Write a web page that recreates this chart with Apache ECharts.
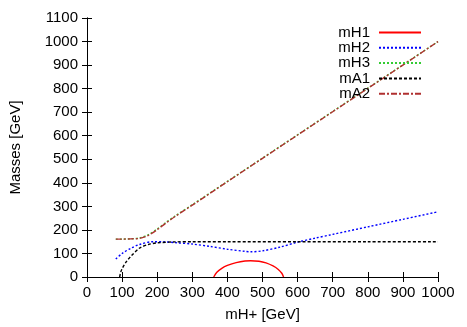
<!DOCTYPE html>
<html>
<head>
<meta charset="utf-8">
<script src="https://cdn.jsdelivr.net/npm/echarts@6/dist/echarts.min.js"></script>
<style>
html, body { margin: 0; padding: 0; background: #fff; }
#chart { width: 467px; height: 327px; }
</style>
</head>
<body>
<div id="chart"></div>
<script>
// values
var mH1X = [361, 370, 385, 400, 425, 450, 466, 490, 510, 530, 545, 555, 560];
var mH1Y = [0, 20, 38, 49, 61, 68, 69, 67, 60, 47, 32, 16, 0];

var mH2X = [82, 100, 125, 150, 188, 225, 250, 300, 350, 400, 450, 466, 500, 550, 600, 650, 700, 800, 900, 1000];
var mH2Y = [76, 100, 122, 138, 150, 149, 146, 140, 130, 118, 109, 107, 111, 127, 148, 165, 181, 213, 245, 277];

var mH3X = [82, 100, 125, 150, 175, 200, 225, 250, 300, 400, 500, 600, 700, 800, 900, 1000];
var mH3Y = [161, 161, 162, 166, 180, 204, 232, 258, 307, 406, 505, 604, 703, 802, 901, 1000];

var mA1X = [93, 96, 100, 112, 125, 150, 175, 200, 250, 300, 400, 600, 800, 1000];
var mA1Y = [0, 20, 35, 65, 88, 123, 138, 145, 149, 150, 150, 150, 150, 150];

var mA2X = [82, 100, 125, 150, 175, 200, 225, 250, 300, 400, 500, 600, 700, 800, 900, 1000];
var mA2Y = [161, 161, 162, 164, 177, 201, 229, 256, 305, 405, 504, 603, 702, 801, 900, 1000];

function pairs(xs, ys) {
	return xs.map(function (x, i) { return [x, ys[i]]; });
}

var chart = echarts.init(document.getElementById('chart'));
var font = 'Liberation Sans, Arial, sans-serif';
var plain = function (v) { return String(v); }; // no thousands separator

function line(name, xs, ys, color, type) {
	return {
		name: name,
		type: 'line',
		data: pairs(xs, ys),
		symbol: 'none',
		smooth: 0.3,
		animation: false,
		lineStyle: { color: color, width: 1.4, type: type },
		itemStyle: { color: color }
	};
}

var option = {
	textStyle: { fontFamily: font },
	grid: { left: 85, right: 29, top: 18, bottom: 50 },
	legend: {
		orient: 'vertical',
		right: 40,
		top: 20,
		align: 'right',
		itemWidth: 42,
		itemHeight: 15,
		itemGap: 0.3,
		itemStyle: { opacity: 0 },
		textStyle: { fontFamily: font, fontSize: 15, color: '#000', padding: [0, 4, 0, 0] },
		data: ['mH1', 'mH2', 'mH3', 'mA1', 'mA2']
	},
	xAxis: [{
		type: 'value',
		min: 0, max: 1000, interval: 100,
		name: 'mH+ [GeV]',
		nameLocation: 'middle',
		nameGap: 30,
		nameTextStyle: { fontSize: 15, color: '#000' },
		axisLine: { lineStyle: { color: '#000' } },
		axisTick: { inside: true, length: 5, lineStyle: { color: '#000' } },
		axisLabel: { color: '#000', fontSize: 15, margin: 8, formatter: plain },
		splitLine: { show: false }
	}, {
		type: 'value', position: 'top',
		min: 0, max: 1000, interval: 100,
		axisLine: { lineStyle: { color: '#000' } },
		axisTick: { inside: true, length: 5, lineStyle: { color: '#000' } },
		axisLabel: { show: false },
		splitLine: { show: false }
	}],
	yAxis: [{
		type: 'value',
		min: 0, max: 1100, interval: 100,
		name: 'Masses [GeV]',
		nameLocation: 'middle',
		nameGap: 64,
		nameTextStyle: { fontSize: 15, color: '#000' },
		axisLine: { show: true, lineStyle: { color: '#000' } },
		axisTick: { show: true, inside: true, length: 5, lineStyle: { color: '#000' } },
		axisLabel: { color: '#000', fontSize: 15, margin: 9, formatter: plain },
		splitLine: { show: false }
	}, {
		type: 'value', position: 'right',
		min: 0, max: 1100, interval: 100,
		axisLine: { show: true, lineStyle: { color: '#000' } },
		axisTick: { show: true, inside: true, length: 5, lineStyle: { color: '#000' } },
		axisLabel: { show: false },
		splitLine: { show: false }
	}],
	series: [
		line('mH1', mH1X, mH1Y, '#ff0000', 'solid'),
		line('mH2', mH2X, mH2Y, '#0000ff', [2, 2]),
		line('mH3', mH3X, mH3Y, '#33cc33', [2, 2]),
		line('mA1', mA1X, mA1Y, '#000000', [3, 2]),
		line('mA2', mA2X, mA2Y, '#b03030', [6, 2, 2, 2])
	]
};
chart.setOption(option);
</script>
</body>
</html>
